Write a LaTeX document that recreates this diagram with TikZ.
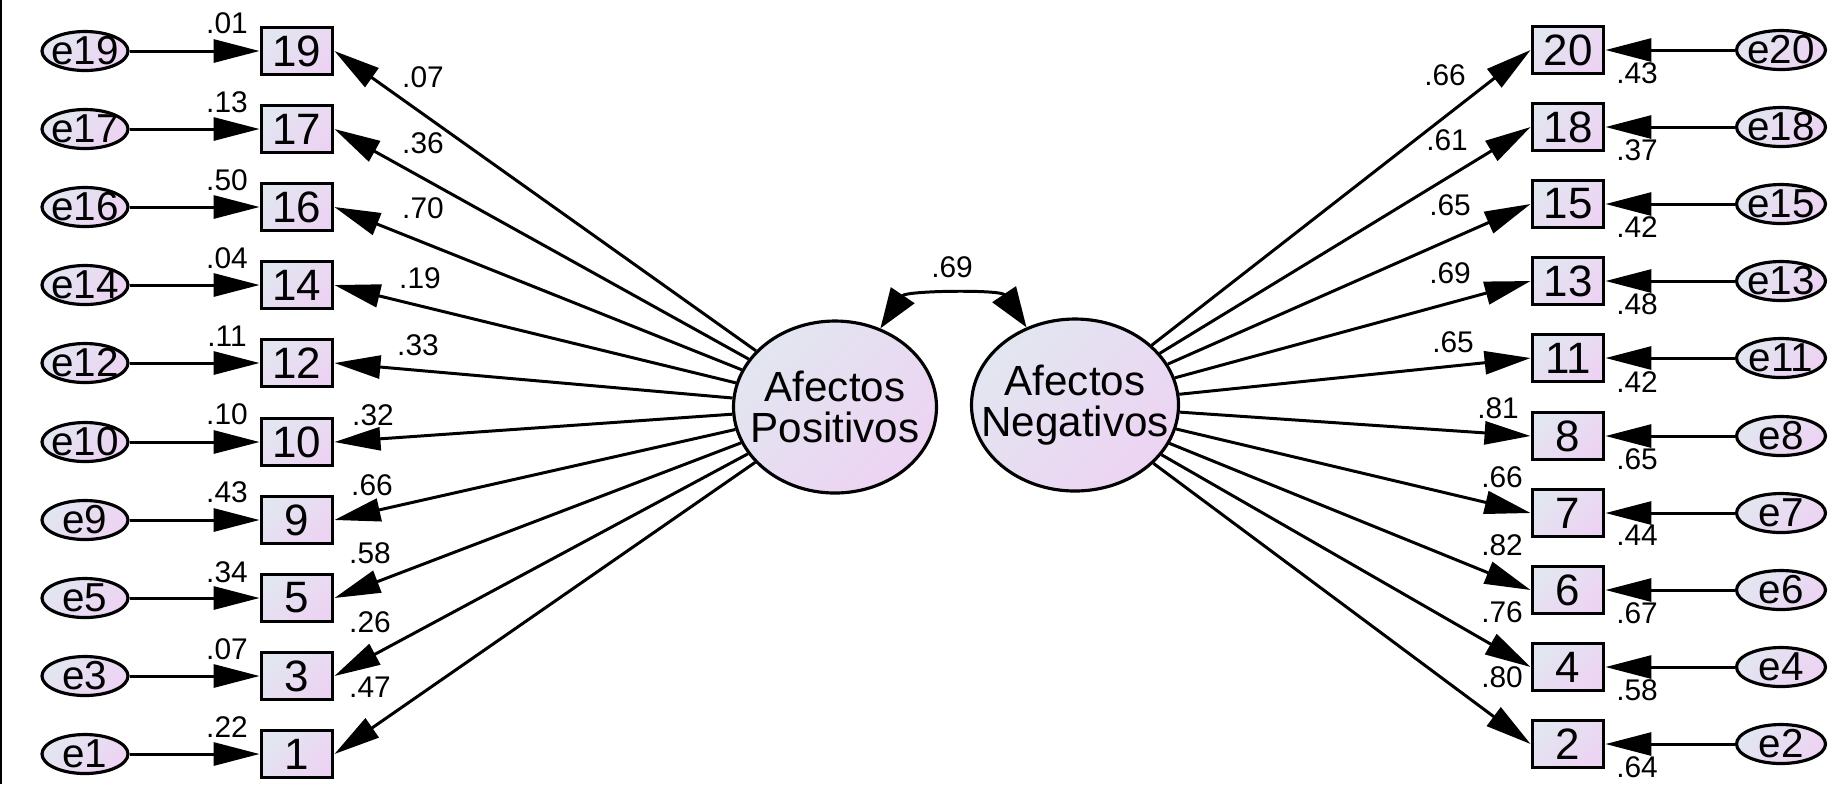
\documentclass[tikz,border=0pt]{standalone}
\usepackage{fontspec}
\setmainfont{Liberation Sans}
\usetikzlibrary{arrows.meta,shapes,positioning}
\definecolor{varcolor}{RGB}{226,230,240}
\definecolor{varshade}{RGB}{237,211,243}

\begin{document}
\begin{tikzpicture}[
        var/.style={rectangle, draw, line width=1.1pt, minimum width=0.71cm, minimum height=0.47cm, inner sep=0pt,
          top color=varcolor, bottom color=varshade, shading angle=45, font=\fontsize{12.5}{14}\selectfont},
        err/.style={ellipse, draw, line width=0.9pt, minimum width=0.86cm, minimum height=0.39cm, inner sep=0pt,
          top color=varcolor, bottom color=varshade, shading angle=45},
        errtext/.style={font=\fontsize{11.5}{13}\selectfont, inner sep=0pt},
        lat/.style={ellipse, draw, line width=0.9pt, minimum width=2.03cm, minimum height=1.72cm, inner sep=0pt,
          top color=varcolor, bottom color=varshade, shading angle=45},
        lattext/.style={font=\fontsize{12}{11.8}\selectfont, align=center, inner sep=0pt},
        val/.style={font=\fontsize{8.5}{10}\selectfont, inner sep=0pt},
        arr/.style={line width=0.85pt, -{Triangle[length=4.6mm,width=2.3mm]}},
        cov/.style={line width=0.85pt, {Triangle[length=4mm,width=2.8mm]}-{Triangle[length=4mm,width=2.8mm]}}
    ]
        \useasboundingbox (0,0) rectangle (18.36,-7.84);
        \draw[line width=0.8pt] (0.01,0) -- (0.01,-7.84);

        % latent factors
        \node[lat, label={[lattext]center:Afectos\\Positivos}] (pos) at (8.35,-4.07) {};
        \node[lat, minimum width=2.07cm, label={[lattext]center:Afectos\\Negativos}] (neg) at (10.75,-4.05) {};
        \draw[cov] (pos.60) to[out=56,in=124,looseness=0.8] (neg.122);
        \node[val] (r) at (9.52,-2.67) {.69};

        % left items
        \node[var] (v19) at (2.97,-0.51) {19};
        \node[var] (v17) at (2.97,-1.29) {17};
        \node[var] (v16) at (2.97,-2.07) {16};
        \node[var] (v14) at (2.97,-2.85) {14};
        \node[var] (v12) at (2.97,-3.63) {12};
        \node[var] (v10) at (2.97,-4.42) {10};
        \node[var] (v9) at (2.97,-5.20) {9};
        \node[var] (v5) at (2.97,-5.98) {5};
        \node[var] (v3) at (2.97,-6.76) {3};
        \node[var] (v1) at (2.97,-7.54) {1};

        % left errors
        \node[err, label={[errtext]center:e19}] (e19) at (0.85,-0.51) {};
        \node[err, label={[errtext]center:e17}] (e17) at (0.85,-1.29) {};
        \node[err, label={[errtext]center:e16}] (e16) at (0.85,-2.07) {};
        \node[err, label={[errtext]center:e14}] (e14) at (0.85,-2.85) {};
        \node[err, label={[errtext]center:e12}] (e12) at (0.85,-3.63) {};
        \node[err, label={[errtext]center:e10}] (e10) at (0.85,-4.42) {};
        \node[err, label={[errtext]center:e9}] (e9) at (0.85,-5.20) {};
        \node[err, label={[errtext]center:e5}] (e5) at (0.85,-5.98) {};
        \node[err, label={[errtext]center:e3}] (e3) at (0.85,-6.76) {};
        \node[err, label={[errtext]center:e1}] (e1) at (0.85,-7.54) {};

        \draw[arr] (e19) -- (v19);
        \draw[arr] (e17) -- (v17);
        \draw[arr] (e16) -- (v16);
        \draw[arr] (e14) -- (v14);
        \draw[arr] (e12) -- (v12);
        \draw[arr] (e10) -- (v10);
        \draw[arr] (e9) -- (v9);
        \draw[arr] (e5) -- (v5);
        \draw[arr] (e3) -- (v3);
        \draw[arr] (e1) -- (v1);

        \draw[arr] (pos) -- (v19.east);
        \draw[arr] (pos) -- (v17.east);
        \draw[arr] (pos) -- (v16.east);
        \draw[arr] (pos) -- (v14.east);
        \draw[arr] (pos) -- (v12.east);
        \draw[arr] (pos) -- (v10.east);
        \draw[arr] (pos) -- (v9.east);
        \draw[arr] (pos) -- (v5.east);
        \draw[arr] (pos) -- (v3.east);
        \draw[arr] (pos) -- (v1.east);

        % left estimates
        \node[val] at (2.27,-0.23) {.01};
        \node[val] at (2.27,-1.02) {.13};
        \node[val] at (2.27,-1.80) {.50};
        \node[val] at (2.27,-2.58) {.04};
        \node[val] at (2.27,-3.36) {.11};
        \node[val] at (2.27,-4.14) {.10};
        \node[val] at (2.27,-4.92) {.43};
        \node[val] at (2.27,-5.72) {.34};
        \node[val] at (2.27,-6.49) {.07};
        \node[val] at (2.27,-7.27) {.22};
        \node[val] at (4.23,-0.77) {.07};
        \node[val] at (4.23,-1.43) {.36};
        \node[val] at (4.23,-2.08) {.70};
        \node[val] at (4.20,-2.78) {.19};
        \node[val] at (4.18,-3.45) {.33};
        \node[val] at (3.73,-4.15) {.32};
        \node[val] at (3.72,-4.85) {.66};
        \node[val] at (3.70,-5.53) {.58};
        \node[val] at (3.70,-6.22) {.26};
        \node[val] at (3.70,-6.87) {.47};

        % right items
        \node[var] (v20) at (15.68,-0.50) {20};
        \node[var] (v18) at (15.68,-1.27) {18};
        \node[var] (v15) at (15.68,-2.04) {15};
        \node[var] (v13) at (15.68,-2.81) {13};
        \node[var] (v11) at (15.68,-3.58) {11};
        \node[var] (v8) at (15.68,-4.36) {8};
        \node[var] (v7) at (15.68,-5.13) {7};
        \node[var] (v6) at (15.68,-5.90) {6};
        \node[var] (v4) at (15.68,-6.67) {4};
        \node[var] (v2) at (15.68,-7.44) {2};

        % right errors
        \node[err, minimum width=0.89cm, label={[errtext]center:e20}] (e20) at (17.81,-0.50) {};
        \node[err, minimum width=0.89cm, label={[errtext]center:e18}] (e18) at (17.81,-1.27) {};
        \node[err, minimum width=0.89cm, label={[errtext]center:e15}] (e15) at (17.81,-2.04) {};
        \node[err, minimum width=0.89cm, label={[errtext]center:e13}] (e13) at (17.81,-2.81) {};
        \node[err, minimum width=0.89cm, label={[errtext]center:e11}] (e11) at (17.81,-3.58) {};
        \node[err, minimum width=0.89cm, label={[errtext]center:e8}] (e8) at (17.81,-4.36) {};
        \node[err, minimum width=0.89cm, label={[errtext]center:e7}] (e7) at (17.81,-5.13) {};
        \node[err, minimum width=0.89cm, label={[errtext]center:e6}] (e6) at (17.81,-5.90) {};
        \node[err, minimum width=0.89cm, label={[errtext]center:e4}] (e4) at (17.81,-6.67) {};
        \node[err, minimum width=0.89cm, label={[errtext]center:e2}] (e2) at (17.81,-7.44) {};

        \draw[arr] (e20) -- (v20);
        \draw[arr] (e18) -- (v18);
        \draw[arr] (e15) -- (v15);
        \draw[arr] (e13) -- (v13);
        \draw[arr] (e11) -- (v11);
        \draw[arr] (e8) -- (v8);
        \draw[arr] (e7) -- (v7);
        \draw[arr] (e6) -- (v6);
        \draw[arr] (e4) -- (v4);
        \draw[arr] (e2) -- (v2);

        \draw[arr] (neg) -- (v20.west);
        \draw[arr] (neg) -- (v18.west);
        \draw[arr] (neg) -- (v15.west);
        \draw[arr] (neg) -- (v13.west);
        \draw[arr] (neg) -- (v11.west);
        \draw[arr] (neg) -- (v8.west);
        \draw[arr] (neg) -- (v7.west);
        \draw[arr] (neg) -- (v6.west);
        \draw[arr] (neg) -- (v4.west);
        \draw[arr] (neg) -- (v2.west);

        % right estimates
        \node[val] at (14.45,-0.75) {.66};
        \node[val] at (14.47,-1.40) {.61};
        \node[val] at (14.50,-2.05) {.65};
        \node[val] at (14.50,-2.73) {.69};
        \node[val] at (14.53,-3.42) {.65};
        \node[val] at (14.98,-4.08) {.81};
        \node[val] at (15.02,-4.77) {.66};
        \node[val] at (15.02,-5.45) {.82};
        \node[val] at (15.02,-6.12) {.76};
        \node[val] at (15.02,-6.77) {.80};
        \node[val] at (16.37,-0.73) {.43};
        \node[val] at (16.37,-1.50) {.37};
        \node[val] at (16.37,-2.27) {.42};
        \node[val] at (16.37,-3.04) {.48};
        \node[val] at (16.37,-3.82) {.42};
        \node[val] at (16.37,-4.59) {.65};
        \node[val] at (16.37,-5.35) {.44};
        \node[val] at (16.37,-6.13) {.67};
        \node[val] at (16.37,-6.90) {.58};
        \node[val] at (16.37,-7.67) {.64};
    \end{tikzpicture}
\end{document}
